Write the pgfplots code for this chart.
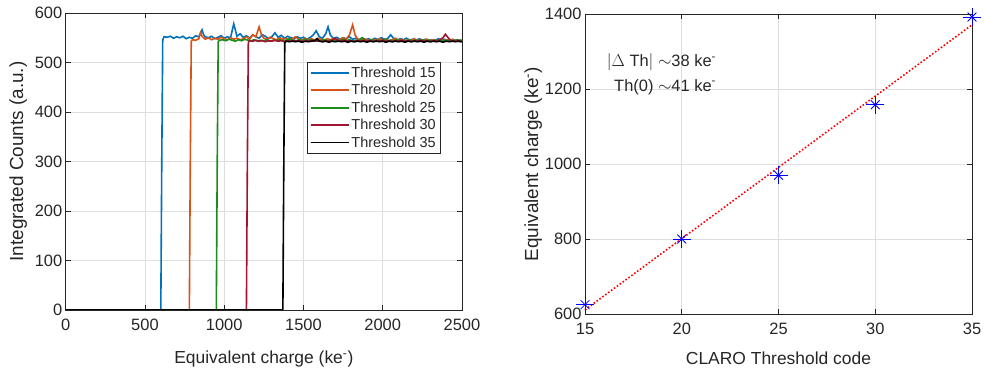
\documentclass[border=0pt]{standalone}
\usepackage{pgfplots}
\pgfplotsset{compat=1.18}
\usepackage{fontspec}
\setmainfont{Liberation Sans}
\definecolor{mtext}{gray}{0.15}
\definecolor{c1}{rgb}{0,0.447,0.741}
\definecolor{c2}{rgb}{0.85,0.325,0.098}
\definecolor{c3}{rgb}{0.1,0.55,0.1}
\definecolor{c4}{rgb}{0.635,0.078,0.184}
\pgfplotsset{
  mstyle/.style={
    scale only axis,
    axis line style={mtext, line width=0.7bp},
    every tick/.style={mtext, line width=0.7bp},
    tick align=inside, tick pos=both, major tick length=5bp,
    grid=major, major grid style={black!13, line width=0.6bp},
    ticklabel style={font=\fontsize{16.5}{19}\selectfont, text=mtext},
    xticklabel style={yshift=-6bp},
    /pgf/number format/assume math mode=true,
    /pgf/number format/1000 sep={},
    xlabel style={font=\fontsize{17.5}{20}\selectfont, text=mtext, anchor=center},
    ylabel style={font=\fontsize{19}{22}\selectfont, text=mtext, anchor=center},
  }
}
\begin{document}
\begin{tikzpicture}
\useasboundingbox (0bp,0bp) rectangle (984bp,374bp);
\begin{axis}[mstyle,
  at={(65.7bp,64bp)}, anchor=south west, width=396.3bp, height=297bp,
  xmin=0, xmax=2500, ymin=0, ymax=600,
  xtick={0,500,1000,1500,2000,2500}, ytick={0,100,...,600},
  xlabel={Equivalent charge (ke\textsuperscript{-})},
  ylabel={Integrated Counts (a.u.)},
  xlabel style={at={(axis description cs:0.5,-0.165)}},
  ylabel style={at={(axis description cs:-0.12,0.5)}},
  legend style={at={(axis description cs:0.609,0.835)}, anchor=north west,
    font=\fontsize{14.5}{16}\selectfont, text=mtext, draw=mtext, line width=0.7bp,
    row sep=1.5bp, inner sep=2.5bp, cells={anchor=west}},
  legend image code/.code={\draw[#1] (0bp,0bp) -- (38bp,0bp);},
]
\addplot[c1, line width=1.6bp] coordinates {(0,0) (600,0) (606,300) (612,545) (620,552) (640,551) (660,553) (680,549) (700,552) (720,550) (740,553) (760,548) (780,551) (800,549) (820,554) (840,552) (860,566) (870,556) (880,552) (900,550) (920,553) (940,548) (960,551) (980,554) (1000,549) (1020,552) (1040,550) (1060,578) (1070,566) (1080,553) (1100,558) (1120,551) (1140,554) (1160,549) (1180,556) (1200,552) (1220,549) (1240,556) (1260,553) (1280,548) (1300,552) (1320,560) (1340,551) (1360,555) (1380,549) (1400,553) (1420,550) (1440,548) (1460,552) (1480,549) (1500,551) (1520,547) (1540,550) (1560,555) (1580,564) (1600,552) (1620,549) (1640,558) (1655,572) (1670,555) (1690,549) (1710,551) (1730,547) (1750,550) (1770,548) (1790,552) (1810,547) (1830,549) (1850,546) (1870,550) (1890,546) (1910,548) (1930,545) (1950,549) (1970,546) (1990,550) (2010,547) (2030,548) (2050,556) (2070,548) (2090,545) (2110,548) (2130,546) (2150,549) (2170,545) (2190,547) (2210,544) (2230,548) (2250,545) (2270,547) (2290,544) (2310,546) (2330,544) (2350,548) (2370,545) (2390,547) (2410,544) (2430,546) (2450,544) (2470,546) (2490,544) (2500,545)};
\addlegendentry{Threshold 15}
\addplot[c2, line width=1.6bp] coordinates {(0,0) (780,0) (786,300) (792,543) (800,546) (820,545) (840,548) (850,560) (860,553) (880,547) (900,550) (920,546) (940,549) (960,547) (980,551) (1000,548) (1020,546) (1040,550) (1060,547) (1080,549) (1100,546) (1120,548) (1140,552) (1160,547) (1180,556) (1200,552) (1220,572) (1235,556) (1250,549) (1270,547) (1290,551) (1310,548) (1330,546) (1350,550) (1370,547) (1390,549) (1410,546) (1430,548) (1450,552) (1470,547) (1490,545) (1510,549) (1530,546) (1550,548) (1570,545) (1590,549) (1610,547) (1630,545) (1650,548) (1670,546) (1690,549) (1710,545) (1730,547) (1750,550) (1770,547) (1790,556) (1810,576) (1825,556) (1840,548) (1860,545) (1880,548) (1900,546) (1920,544) (1940,547) (1960,545) (1980,548) (2000,545) (2020,547) (2040,544) (2060,546) (2080,549) (2100,545) (2120,547) (2140,544) (2160,546) (2180,545) (2200,548) (2220,544) (2240,546) (2260,545) (2280,547) (2300,544) (2320,546) (2340,543) (2360,546) (2380,544) (2400,546) (2420,544) (2440,547) (2460,544) (2480,545) (2500,544)};
\addlegendentry{Threshold 20}
\addplot[c3, line width=1.6bp] coordinates {(0,0) (950,0) (956,300) (962,542) (970,545) (990,546) (1010,544) (1030,547) (1050,545) (1070,543) (1090,546) (1110,544) (1130,547) (1150,545) (1170,544) (1190,546) (1210,543) (1230,545) (1250,544) (1270,546) (1290,543) (1310,545) (1330,544) (1350,546) (1370,544) (1390,545) (1410,548) (1430,545) (1450,543) (1470,546) (1490,544) (1510,547) (1530,544) (1550,546) (1570,543) (1590,545) (1610,544) (1630,546) (1650,544) (1670,545) (1690,543) (1710,546) (1730,544) (1750,547) (1770,544) (1790,546) (1810,543) (1830,545) (1850,544) (1870,550) (1890,545) (1910,543) (1930,546) (1950,544) (1970,545) (1990,543) (2010,546) (2030,544) (2050,545) (2070,543) (2090,546) (2110,544) (2130,545) (2150,543) (2170,546) (2190,544) (2210,545) (2230,543) (2250,546) (2270,544) (2290,545) (2310,543) (2330,545) (2350,544) (2370,546) (2390,544) (2410,545) (2430,543) (2450,545) (2470,544) (2490,545) (2500,544)};
\addlegendentry{Threshold 25}
\addplot[c4, line width=1.6bp] coordinates {(0,0) (1140,0) (1146,300) (1152,541) (1160,544) (1180,543) (1200,545) (1220,543) (1240,544) (1260,542) (1280,544) (1300,543) (1320,545) (1340,543) (1360,544) (1380,542) (1400,544) (1420,543) (1440,545) (1460,543) (1480,544) (1500,542) (1520,544) (1540,543) (1560,545) (1580,543) (1600,544) (1620,542) (1640,544) (1660,543) (1680,545) (1700,549) (1720,544) (1740,543) (1760,545) (1780,543) (1800,544) (1820,542) (1840,544) (1860,543) (1880,545) (1900,543) (1920,544) (1940,542) (1960,544) (1980,543) (2000,545) (2020,543) (2040,544) (2060,542) (2080,544) (2100,543) (2120,545) (2140,543) (2160,544) (2180,542) (2200,544) (2220,543) (2240,545) (2260,543) (2280,544) (2300,542) (2320,544) (2340,543) (2360,546) (2380,550) (2395,557) (2410,551) (2430,544) (2450,543) (2470,544) (2490,542) (2500,543)};
\addlegendentry{Threshold 30}
\addplot[black, line width=1.6bp] coordinates {(0,0) (1370,0) (1376,300) (1382,540) (1390,543) (1410,542) (1430,543) (1450,542) (1470,543) (1490,541) (1510,543) (1530,542) (1550,543) (1570,544) (1585,548) (1600,543) (1620,542) (1640,543) (1660,541) (1680,543) (1700,542) (1720,543) (1740,542) (1760,543) (1780,541) (1800,543) (1820,542) (1840,543) (1860,542) (1880,543) (1900,541) (1920,543) (1940,542) (1960,543) (1980,542) (2000,543) (2020,541) (2040,543) (2060,542) (2080,543) (2100,542) (2120,543) (2140,541) (2160,543) (2180,542) (2200,543) (2220,542) (2240,543) (2260,541) (2280,543) (2300,542) (2320,543) (2340,542) (2360,543) (2380,541) (2400,543) (2420,542) (2440,543) (2460,542) (2480,543) (2500,542)};
\addlegendentry{Threshold 35}
\end{axis}
\begin{axis}[mstyle,
  at={(585bp,60bp)}, anchor=south west, width=387bp, height=300bp,
  xmin=15, xmax=35, ymin=600, ymax=1400,
  xtick={15,20,...,35}, ytick={600,800,...,1400},
  xlabel={CLARO Threshold code},
  ylabel={Equivalent charge (ke\textsuperscript{-})},
  xlabel style={at={(axis description cs:0.5,-0.147)}},
  ylabel style={at={(axis description cs:-0.134,0.5)}},
  clip=false,
]
\addplot[red, line width=1.6bp, dotted] coordinates {(15,611) (35,1371)};
\addplot[only marks, blue, mark=+, mark size=9bp, mark options={line width=0.8bp}] coordinates {(15,625) (20,800) (25,970) (30,1158) (35,1392)};
\addplot[only marks, blue, mark=x, mark size=6.3bp, mark options={line width=0.8bp}] coordinates {(15,625) (20,800) (25,970) (30,1158) (35,1392)};
\node[anchor=east, font=\fontsize{16.5}{19}\selectfont, text=mtext, inner sep=0pt] at (rel axis cs:0.339,0.84) {$|\Delta$ Th$|$ $\sim$38 ke\textsuperscript{-}};
\node[anchor=east, font=\fontsize{16.5}{19}\selectfont, text=mtext, inner sep=0pt] at (rel axis cs:0.339,0.757) {Th(0) $\sim$41 ke\textsuperscript{-}};
\end{axis}
\end{tikzpicture}
\end{document}
